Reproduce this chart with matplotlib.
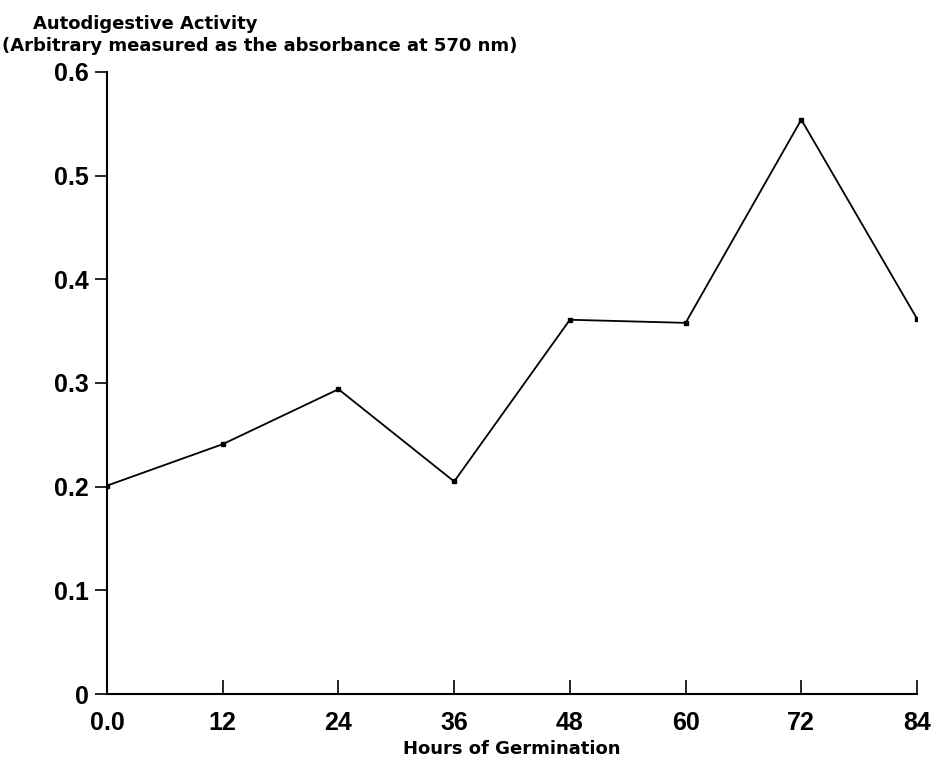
import matplotlib
matplotlib.use("Agg")
import matplotlib.pyplot as plt

hours = [0, 12, 24, 36, 48, 60, 72, 84]
activity = [0.201, 0.241, 0.294, 0.205, 0.361, 0.358, 0.554, 0.362]
x_ticks = [0, 12, 24, 36, 48, 60, 72, 84]
x_labels = ['0.0', '12', '24', '36', '48', '60', '72', '84']
y_ticks = [0, 0.1, 0.2, 0.3, 0.4, 0.5, 0.6]
y_labels = ['0', '0.1', '0.2', '0.3', '0.4', '0.5', '0.6']

plt.rcParams['font.family'] = ['Liberation Sans', 'DejaVu Sans']
plt.rcParams['font.weight'] = 'bold'

fig = plt.figure(figsize=(9.34, 7.64), dpi=100)
ax = fig.add_axes([0.1146, 0.0916, 0.8672, 0.8142])

ax.plot(hours, activity, color='black', linewidth=1.3, marker='s', markersize=3.5)

ax.set_xlim(0, 84)
ax.set_ylim(0, 0.6)
ax.set_xticks(x_ticks)
ax.set_xticklabels(x_labels, fontsize=18)
ax.set_yticks(y_ticks)
ax.set_yticklabels(y_labels, fontsize=18)
ax.tick_params(axis='x', direction='in', length=10, width=1.2, pad=12)
ax.tick_params(axis='y', direction='out', length=9, width=1.2, pad=4)

ax.spines['top'].set_visible(False)
ax.spines['right'].set_visible(False)
for s in ['left', 'bottom']:
    ax.spines[s].set_linewidth(1.5)

lab_font = dict(family='DejaVu Sans', weight='bold', fontsize=13)
ax.set_xlabel('Hours of Germination', labelpad=4, **lab_font)
fig.text(0.035, 0.962, 'Autodigestive Activity', ha='left', va='baseline', **lab_font)
fig.text(0.002, 0.933, '(Arbitrary measured as the absorbance at 570 nm)',
         ha='left', va='baseline', **lab_font)

fig.savefig('out.png', dpi=100)
